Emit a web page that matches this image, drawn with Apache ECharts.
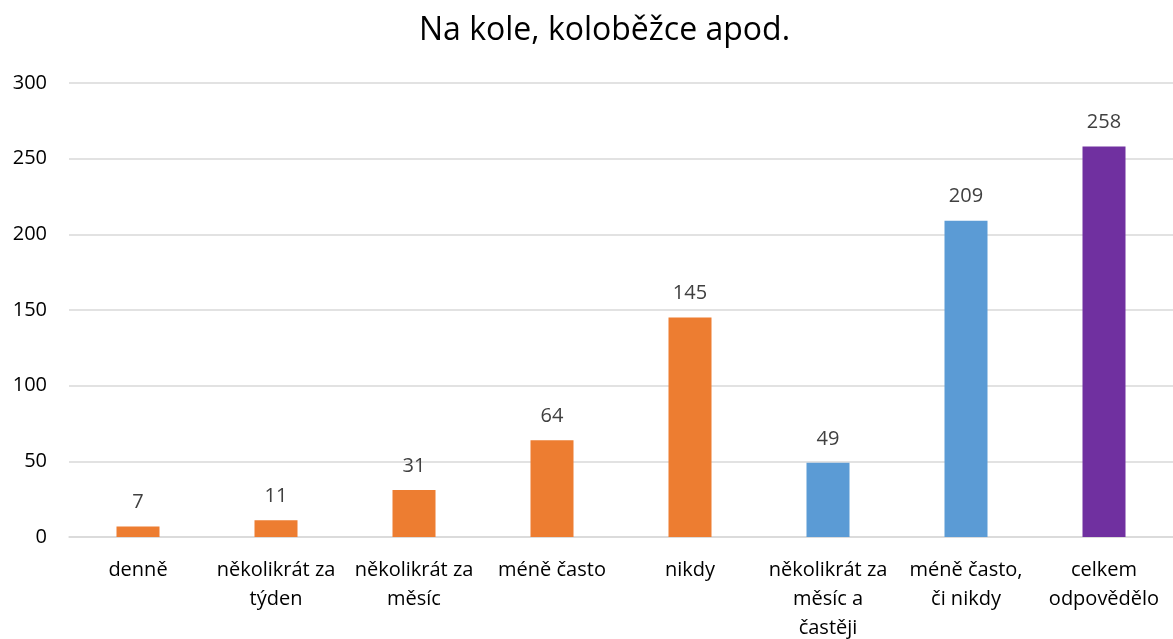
<!DOCTYPE html>
<html>
<head>
<meta charset="utf-8">
<script src="https://cdn.jsdelivr.net/npm/echarts@6/dist/echarts.min.js"></script>
<style>
  html, body { margin: 0; padding: 0; background: #fff; }
  #chart { width: 1173px; height: 639px; }
</style>
</head>
<body>
<div id="chart"></div>
<script>
var categories = [
  'denně',
  'několikrát za\ntýden',
  'několikrát za\nměsíc',
  'méně často',
  'nikdy',
  'několikrát za\nměsíc a\nčastěji',
  'méně často,\nči nikdy',
  'celkem\nodpovědělo'
];
var values = [7, 11, 31, 64, 145, 49, 209, 258];
var yTicks = [0, 50, 100, 150, 200, 250, 300];

// barvy sloupců
var barColors = ['#ED7D31', '#ED7D31', '#ED7D31', '#ED7D31', '#ED7D31', '#5B9BD5', '#5B9BD5', '#7030A0'];

var chart = echarts.init(document.getElementById('chart'));
var font = '"Open Sans", "DejaVu Sans", sans-serif';

chart.setOption({
  animation: false,
  title: {
    text: 'Na kole, koloběžce apod.',
    left: 414,
    top: 10,
    textStyle: { fontFamily: font, fontSize: 32, fontWeight: 'normal', color: '#000' }
  },
  grid: { left: 69, right: 0, top: 83, bottom: 102, containLabel: false, outerBoundsMode: 'none' },
  xAxis: {
    type: 'category',
    data: categories,
    axisLine: { lineStyle: { color: '#d9d9d9', width: 1.5 } },
    axisTick: { show: false },
    axisLabel: {
      interval: 0,
      margin: 19,
      color: '#000',
      fontFamily: font,
      fontSize: 20,
      lineHeight: 29
    }
  },
  yAxis: {
    type: 'value',
    min: yTicks[0],
    max: yTicks[yTicks.length - 1],
    interval: 50,
    axisLine: { show: false },
    axisTick: { show: false },
    splitLine: { lineStyle: { color: '#d9d9d9', width: 1.5 } },
    axisLabel: { color: '#000', fontFamily: font, fontSize: 20, margin: 22 }
  },
  series: [{
    type: 'bar',
    barWidth: 43,
    data: values.map(function (v, i) {
      return { value: v, itemStyle: { color: barColors[i] } };
    }),
    label: {
      show: true,
      position: 'top',
      distance: 14,
      color: '#404040',
      fontFamily: font,
      fontSize: 20
    }
  }]
});
</script>
</body>
</html>
